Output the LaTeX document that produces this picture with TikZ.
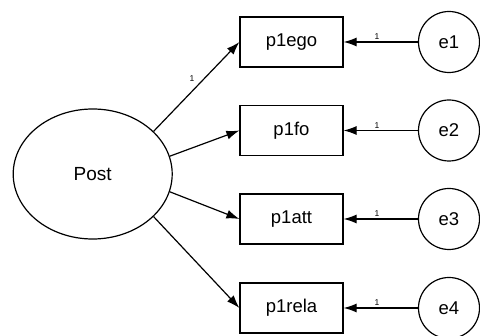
\documentclass[tikz,border=0pt]{standalone}
\usepackage{fontspec}
\setmainfont{Liberation Sans}
\usetikzlibrary{shapes.geometric,arrows.meta}

\tikzset{
  latent/.style={draw, ellipse, line width=1.2pt, minimum width=159pt, minimum height=130pt,
    font=\fontsize{19}{21}\selectfont},
  observed/.style={draw, rectangle, line width=1.2pt, minimum width=103pt, minimum height=50pt,
    font=\fontsize{18.5}{20}\selectfont},
  errterm/.style={draw, circle, line width=1.2pt, minimum size=61pt, inner sep=0pt,
    font=\fontsize{18.5}{20}\selectfont},
  path/.style={line width=1.2pt, -{Latex[length=13pt,width=9pt]}},
  weight/.style={font=\fontsize{8.5}{9}\selectfont, inner sep=1.5pt}
}

\begin{document}
\begin{tikzpicture}[x=1pt, y=-1pt]
  \useasboundingbox (0,0) rectangle (480,336);

  % variabile latente
  \node[latent] (Post) at (92.7,174) {Post};

  % indicatori ed errori
  \foreach \name/\yy/\ang [count=\i] in {p1ego/42/35, p1fo/130.5/13, p1att/219/-13, p1rela/308/-35} {
    \node[observed] (\name) at (291.5,\yy) {\name};
    \node[errterm] (e\i) at (449,\yy) {e\i};
    \draw[path] (e\i) -- node[weight, above, pos=0.55] {1} (\name);
    \draw[path] (Post.\ang) -- (\name.west);
  }

  % peso fissato
  \node[weight] (w1) at (192,79) {1};
\end{tikzpicture}
\end{document}
